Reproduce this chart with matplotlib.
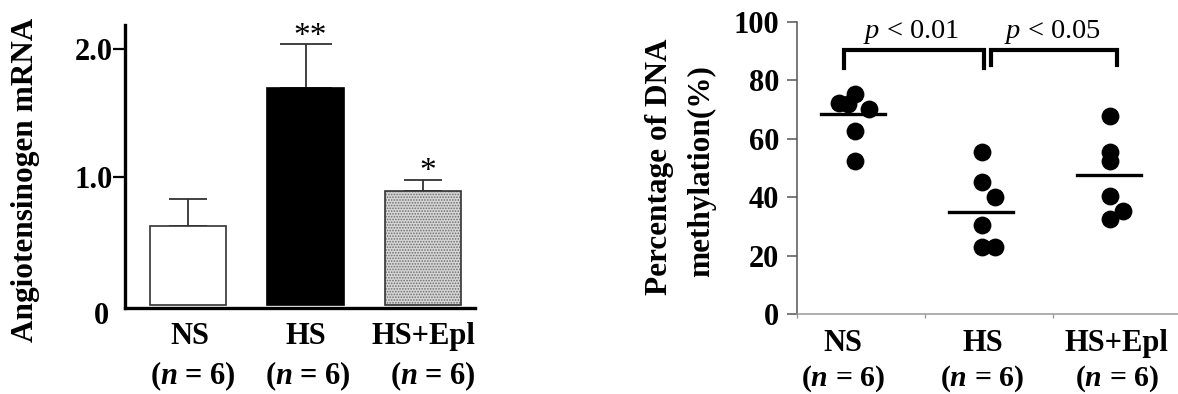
import matplotlib
matplotlib.use("Agg")
import matplotlib.pyplot as plt
import matplotlib.transforms as mtransforms
import numpy as np

plt.rcParams['font.family'] = 'Liberation Serif'
plt.rcParams['mathtext.fontset'] = 'custom'
plt.rcParams['mathtext.rm'] = 'Liberation Serif'
plt.rcParams['mathtext.it'] = 'Liberation Serif:italic'
plt.rcParams['mathtext.bfit'] = 'Liberation Serif:italic:bold'
plt.rcParams['hatch.linewidth'] = 0.8

groups = ['NS', 'HS', 'HS+Epl']
n_label = r'($\mathbfit{n}$ = 6)'

# left: angiotensinogen mRNA (mean, upper SEM)
mrna_mean = [0.62, 1.70, 0.89]
mrna_err = [0.21, 0.34, 0.09]
mrna_stars = ['', '**', '*']
mrna_ticks = [1, 2]
mrna_ticklabels = ['1.0', '2.0']

# right: DNA methylation per animal (%)
meth_ns = [72.3, 75.4, 70.2, 72.0, 62.6, 52.4]
meth_hs = [55.3, 45.3, 40.0, 30.4, 23.0, 23.0]
meth_epl = [67.7, 55.3, 52.4, 40.5, 35.4, 32.6]
meth_means = [68.3, 34.9, 47.7]
p_labels = [r'$p$ < 0.01', r'$p$ < 0.05']

fig = plt.figure(figsize=(11.78, 3.94), dpi=100)

# ---------- left panel ----------
ax1 = fig.add_axes([125 / 1178, 86 / 394, 350 / 1178, 283 / 394])
x = np.arange(3)
w = 0.65
ax1.bar(x[0], mrna_mean[0], w, color='white', edgecolor='#333333', lw=1.2, zorder=2)
ax1.bar(x[1], mrna_mean[1], w, color='black', edgecolor='black', lw=1.2, zorder=2)
ax1.bar(x[2], mrna_mean[2], w, color='#d6d6d6', edgecolor='#6e6e6e', hatch='......', lw=0, zorder=2)
ax1.bar(x[2], mrna_mean[2], w, fill=False, edgecolor='#333333', lw=1.2, zorder=3)
caps = [13.5, 18.5, 13.5]
for i in range(3):
    ax1.errorbar(x[i], mrna_mean[i], yerr=[[0], [mrna_err[i]]], fmt='none',
                 ecolor='#333333', elinewidth=1.3, capsize=caps[i], capthick=1.3, zorder=1)
    if mrna_stars[i]:
        ax1.text(x[i] + 0.04, mrna_mean[i] + mrna_err[i] - 0.06, mrna_stars[i],
                 ha='center', va='bottom', fontsize=24)

ax1.set_xlim(-0.535, 2.44)
ax1.set_ylim(-0.023, 2.19)
ax1.set_yticks(mrna_ticks)
ax1.set_yticklabels(mrna_ticklabels, fontsize=22, fontweight='bold')
ax1.tick_params(axis='y', direction='out', length=8.5, width=1.6, pad=0)
ax1.set_xticks([])
for s in ['top', 'right']:
    ax1.spines[s].set_visible(False)
ax1.spines['left'].set_linewidth(2.4)
ax1.spines['bottom'].set_linewidth(2.4)
tr = mtransforms.blended_transform_factory(ax1.transAxes, ax1.transData)
ax1.text(-0.045, -0.09, '0', transform=tr, ha='right', va='center',
         fontsize=22, fontweight='bold')
lab_x1 = [0.02, 1.0, 2.0]
nlab_x1 = [0.04, 1.02, 2.08]
for i in range(3):
    ax1.text(lab_x1[i], -0.1, groups[i], transform=ax1.get_xaxis_transform(),
             ha='center', va='center', fontsize=22, fontweight='bold')
    ax1.text(nlab_x1[i], -0.24, n_label, transform=ax1.get_xaxis_transform(),
             ha='center', va='center', fontsize=22, fontweight='bold')
fig.text(26 / 1178, 1 - 180 / 394, 'Angiotensinogen mRNA', rotation=90,
         ha='center', va='center', fontsize=22.5, fontweight='bold')

# ---------- right panel ----------
ax2 = fig.add_axes([797 / 1178, 80 / 394, 381 / 1178, 292.3 / 394])
centers = [0.45, 1.45, 2.45]
offsets = [[-0.12, 0.0, 0.11, -0.05, 0.0, 0.0],
           [0.0, 0.0, 0.1, 0.0, 0.0, 0.1],
           [0.0, 0.0, 0.0, 0.0, 0.1, 0.0]]
series = [meth_ns, meth_hs, meth_epl]
for i in range(3):
    xs = centers[i] + np.array(offsets[i])
    ax2.scatter(xs, series[i], s=165, color='black', lw=0, zorder=3, clip_on=False)
    ax2.plot([centers[i] - 0.26, centers[i] + 0.24], [meth_means[i]] * 2,
             color='black', lw=2.4, zorder=4)

# significance brackets
ax2.plot([0.37, 0.37, 1.46, 1.46], [84.1, 90.4, 90.4, 84.1], color='black', lw=3,
         solid_joinstyle='miter', clip_on=False)
ax2.plot([1.52, 1.52, 2.5, 2.5], [85.3, 90.4, 90.4, 85.3], color='black', lw=3,
         solid_joinstyle='miter', clip_on=False)
ax2.text(0.89, 96.5, p_labels[0], ha='center', va='center', fontsize=20.5)
ax2.text(2.0, 96.5, p_labels[1], ha='center', va='center', fontsize=20.5)

ax2.set_xlim(0, 2.98)
ax2.set_ylim(0, 100)
ax2.set_yticks(np.arange(0, 101, 20))
ax2.set_yticklabels([str(v) for v in range(0, 101, 20)], fontsize=22, fontweight='bold')
ax2.set_xticks([0, 1, 2])
ax2.set_xticklabels([])
ax2.tick_params(axis='y', direction='out', length=7, width=1.1, color='#555555', pad=6)
ax2.tick_params(axis='x', direction='out', length=3, width=1.0, color='#999999')
for s in ['top', 'right']:
    ax2.spines[s].set_visible(False)
ax2.spines['left'].set_color('#555555')
ax2.spines['left'].set_linewidth(1.1)
ax2.spines['bottom'].set_color('#999999')
ax2.spines['bottom'].set_linewidth(1.1)
lab_x2 = [0.36, 1.45, 2.5]
for i in range(3):
    ax2.text(lab_x2[i], -0.1, groups[i], transform=ax2.get_xaxis_transform(),
             ha='center', va='center', fontsize=22, fontweight='bold')
    ax2.text(lab_x2[i], -0.222, n_label, transform=ax2.get_xaxis_transform(),
             ha='center', va='center', fontsize=21.5, fontweight='bold')
fig.text(660 / 1178, 1 - 167 / 394, 'Percentage of DNA', rotation=90,
         ha='center', va='center', fontsize=22.5, fontweight='bold')
fig.text(702 / 1178, 1 - 171 / 394, 'methylation(%)', rotation=90,
         ha='center', va='center', fontsize=22.5, fontweight='bold')

fig.savefig('out.png', dpi=100)
